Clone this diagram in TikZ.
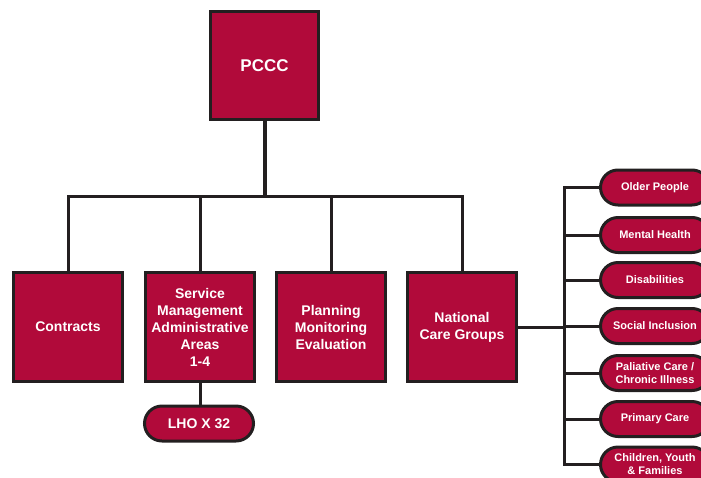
\documentclass[tikz,border=0pt]{standalone}
\usepackage{fontspec}
\setmainfont{Liberation Sans}
\definecolor{boxred}{HTML}{B10A3A}
\definecolor{edge}{HTML}{231F20}
\begin{document}
\begin{tikzpicture}[x=1pt,y=-1pt,
  box/.style={draw=edge, fill=boxred, line width=3pt, minimum width=109pt, minimum height=109pt,
    inner sep=2pt, text=white, align=center, font=\fontsize{14}{17}\selectfont\bfseries},
  pill/.style={draw=edge, fill=boxred, line width=3pt, rounded corners=17.5pt, minimum width=109pt,
    minimum height=35pt, inner sep=1pt, text=white, align=center, font=\fontsize{14}{16}\selectfont\bfseries},
  smallpill/.style={pill, font=\fontsize{11}{13}\selectfont\bfseries},
  conn/.style={draw=edge, line width=3pt, line join=miter}]
\useasboundingbox (0,0) rectangle (701,477);
\node[box, minimum width=108pt, minimum height=108pt, font=\fontsize{17}{20}\selectfont\bfseries] (pccc) at (264.5,65.5) {PCCC};
\node[box] (contracts) at (68,327) {Contracts};
\node[box] (service) at (200,327) {Service\\Management\\Administrative\\Areas\\1-4};
\node[box] (planning) at (331,327) {Planning\\Monitoring\\Evaluation};
\node[box] (national) at (462,327) {National\\Care Groups};
\node[pill] (lho) at (199,423.5) {LHO X 32};
\node[smallpill] (older) at (655,187.5) {Older People};
\node[smallpill] (mental) at (655,235) {Mental Health};
\node[smallpill] (disab) at (655,280) {Disabilities};
\node[smallpill] (social) at (655,326) {Social Inclusion};
\node[smallpill] (paliative) at (655,373) {Paliative Care /\\Chronic Illness};
\node[smallpill] (primary) at (655,419) {Primary Care};
\node[smallpill] (children) at (655,464.5) {Children, Youth\\\& Families};
\coordinate (bar) at (0,196);
\coordinate (vbar) at (564,0);
\draw[conn, line width=4pt] (pccc.south) -- (pccc.south |- bar);
\draw[conn] (contracts.north) -- (contracts.north |- bar) -- (national.north |- bar) -- (national.north);
\draw[conn] (service.north) -- (service.north |- bar);
\draw[conn] (planning.north) -- (planning.north |- bar);
\draw[conn] (service.south) -- (lho.north -| service.south);
\draw[conn] (national.east) -- (national.east -| vbar);
\draw[conn] (older.west) -- (older.west -| vbar) -- (children.west -| vbar) -- (children.west);
\foreach \p in {mental,disab,social,paliative,primary}
  \draw[conn] (\p.west -| vbar) -- (\p.west);
\end{tikzpicture}
\end{document}
